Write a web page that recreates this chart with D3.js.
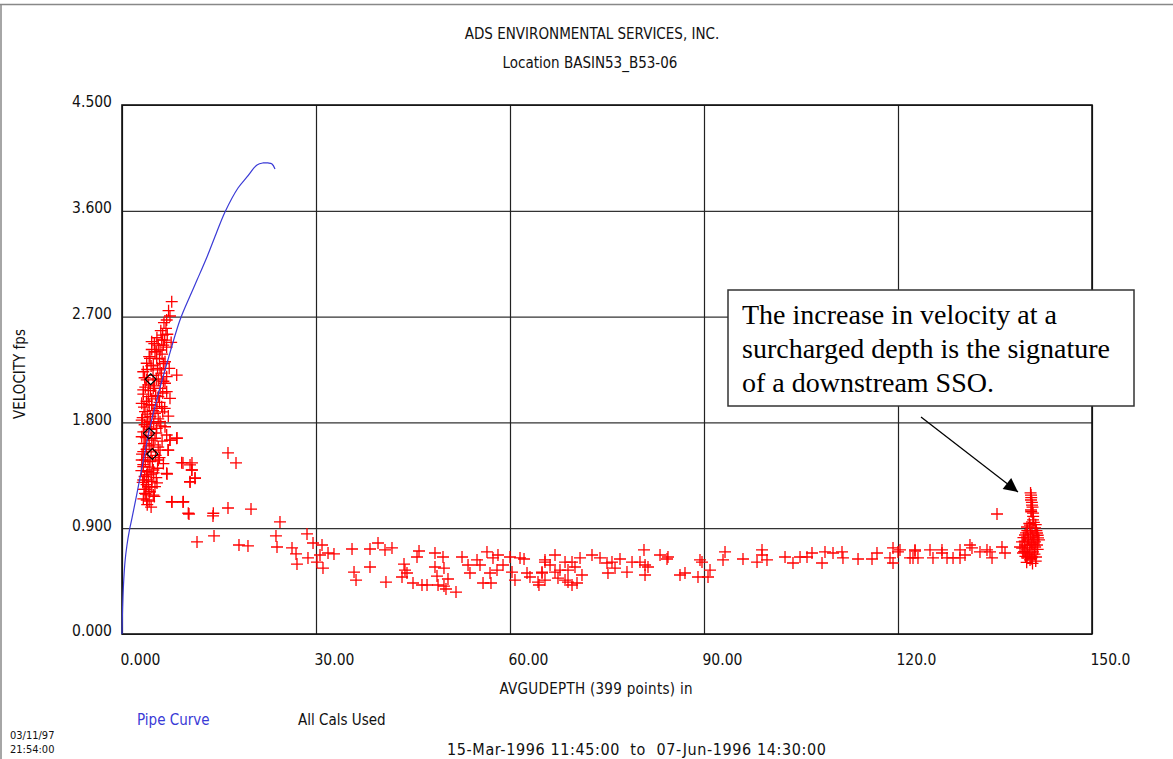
<!DOCTYPE html>
<html>
<head>
<meta charset="utf-8">
<script src="https://cdnjs.cloudflare.com/ajax/libs/d3/7.8.5/d3.min.js"></script>
<style>
  body { margin: 0; background: #fff; }
  svg { display: block; }
  .cad { font-family: "DejaVu Sans Condensed", "Liberation Sans Narrow", sans-serif; font-size: 15px; fill: #111; }
</style>
</head>
<body>
<span></span>
<script>
let width = 1173;
let height = 759;
let margin = { left: 122, top: 105, right: 81, bottom: 125 };
let plotW = width - margin.left - margin.right;
let plotH = height - margin.top - margin.bottom;

// axis ticks
let xTicks = [0, 30, 60, 90, 120, 150];
let xTickLabels = ["0.000", "30.00", "60.00", "90.00", "120.0", "150.0"];
let yTicks = [0, 0.9, 1.8, 2.7, 3.6, 4.5];
let yTickLabels = ["0.000", "0.900", "1.800", "2.700", "3.600", "4.500"];

// pipe curve (depth in, velocity fps)
let pipeDepth = [0, 0.08, 0.23, 0.46, 0.77, 1.16, 1.55, 2.32, 3.25, 4.33, 5.57, 6.96, 8.97, 10.52, 11.60, 13.14, 14.54, 15.93, 17.94, 19.33, 20.88, 21.80, 22.58, 23.20, 23.66];
let pipeVelocity = [0, 0.204, 0.417, 0.612, 0.757, 0.885, 0.987, 1.199, 1.463, 1.761, 2.033, 2.305, 2.671, 2.875, 3.011, 3.207, 3.403, 3.590, 3.794, 3.888, 3.990, 4.007, 4.007, 3.999, 3.956];

// calibration points
let calPoints = [[4.43, 2.167], [4.18, 1.707], [4.69, 1.531]];

// scatter: low depth cluster
let clusterPoints = [
  [7.69,2.827],[7.42,2.705],[6.49,2.648],[6.91,2.671],[6.29,2.543],[6.14,2.501],[4.59,2.487],[5.61,2.458],[6.39,2.458],[5.10,2.401],
  [5.88,2.416],[4.33,2.345],[5.37,2.345],[6.65,2.316],[3.82,2.303],[4.84,2.288],[3.29,2.231],[5.88,2.246],[8.46,2.203],[6.91,2.189],
  [3.82,2.161],[5.61,2.161],[6.65,2.133],[3.29,2.076],[4.84,2.090],[6.91,2.061],[4.07,2.019],[5.61,2.019],[7.42,2.005],[3.05,1.962],
  [4.59,1.948],[6.14,1.934],[3.56,1.891],[5.10,1.877],[7.16,1.854],[3.05,1.820],[4.33,1.806],[5.88,1.806],[3.82,1.763],[5.37,1.750],
  [6.65,1.763],[3.05,1.678],[5.10,1.665],[6.91,1.693],[8.46,1.665],[3.56,1.622],[4.84,1.608],[7.42,1.650],[3.29,1.551],[5.88,1.565],
  [7.16,1.565],[3.05,1.480],[4.33,1.466],[5.61,1.480],[9.23,1.457],[10.52,1.438],[3.29,1.423],[4.84,1.395],[10.78,1.395],[3.82,1.353],
  [6.91,1.367],[11.29,1.324],[3.29,1.310],[4.59,1.296],[10.52,1.296],[4.07,1.253],[5.10,1.253],[3.56,1.197],[4.84,1.182],[3.82,1.140],
  [7.69,1.125],[9.48,1.125],[10.25,1.027],[14.12,1.027],
  [7.2,2.75],[6.8,2.60],[6.0,2.58],[7.0,2.55],[5.4,2.52],[6.6,2.50],[5.0,2.47],[6.9,2.44],[4.6,2.42],[5.3,2.40],
  [6.2,2.38],[4.2,2.36],[5.8,2.34],[6.4,2.30],[4.5,2.28],[5.5,2.26],[3.9,2.25],[6.1,2.22],[4.8,2.20],[3.5,2.18],
  [5.3,2.17],[6.4,2.15],[4.1,2.12],[5.0,2.11],[3.6,2.10],[5.9,2.09],[4.4,2.07],[6.3,2.05],[3.3,2.04],[5.2,2.03],
  [4.6,2.00],[3.8,1.98],[5.8,1.97],[4.2,1.95],[3.4,1.93],[5.4,1.92],[4.8,1.90],[6.3,1.89],[3.9,1.87],[4.4,1.85],
  [3.2,1.84],[5.6,1.83],[4.0,1.80],[4.9,1.79],[3.5,1.78],[6.0,1.77],[4.5,1.74],[3.3,1.72],[5.3,1.71],[4.1,1.69],
  [3.7,1.67],[4.6,1.65],[6.2,1.64],[3.4,1.62],[4.2,1.60],[5.6,1.59],[3.8,1.57],[4.5,1.55],[3.1,1.53],[5.2,1.52],
  [4.0,1.50],[3.6,1.48],[4.7,1.47],[6.4,1.45],[3.3,1.44],[4.2,1.42],[5.5,1.41],[3.0,1.39],[3.9,1.38],[4.5,1.36],
  [3.5,1.34],[5.3,1.33],[4.1,1.31],[3.2,1.29],[3.8,1.27],[4.6,1.25],[3.4,1.23],[4.3,1.21],[3.7,1.19],[5.0,1.17],
  [3.3,1.15],[4.2,1.13],[3.9,1.10],[4.5,1.08],[3.6,1.23],[4.9,1.37],[5.8,1.50],[6.6,1.92],[7.3,2.26],[7.6,2.48]
];

// scatter: falling tail and flat run
let tailPoints = [
  [8.51,1.667],[7.42,1.650],[7.11,1.565],[16.39,1.540],[17.63,1.455],[9.43,1.455],[10.82,1.455],[10.82,1.395],[11.29,1.327],[10.52,1.293],
  [6.96,1.361],[5.41,1.285],[7.73,1.123],[9.43,1.123],[10.36,1.021],[14.07,1.004],[16.39,1.072],[19.95,1.063],[24.43,0.953],[11.60,0.783],
  [14.23,0.834],[18.09,0.757],[19.48,0.749],[23.81,0.834],[23.97,0.740],[26.29,0.732],[26.91,0.681],[27.06,0.595],[28.61,0.851],[29.54,0.774],
  [30.93,0.757],[28.76,0.647],[30.15,0.612],[31.08,0.561],[30.62,0.672],[31.86,0.689],[32.78,0.681],[35.57,0.723],[35.88,0.527],[36.19,0.459],
  [38.35,0.723],[38.35,0.570],[39.59,0.774],[40.67,0.715],[41.75,0.732],[40.82,0.442],[43.61,0.595],[43.76,0.544],[43.30,0.485],[44.07,0.519],
  [45.62,0.655],[45.93,0.706],[45.00,0.434],[46.39,0.417],[47.17,0.417],[48.40,0.689],[49.64,0.655],[48.40,0.570],[49.79,0.561],[48.71,0.493],
  [50.41,0.468],[48.87,0.417],[49.79,0.408],[50.10,0.383],[51.65,0.357],[52.58,0.655],[53.51,0.587],[53.81,0.519],[54.90,0.630],[55.36,0.587],
  [56.44,0.698],[57.37,0.647],[58.14,0.672],[56.91,0.519],[57.99,0.544],[55.83,0.434],[57.06,0.434],[58.92,0.587],[60.00,0.655],[60.31,0.527],
  [60.77,0.459],[61.55,0.647],[62.17,0.638],[62.63,0.519],[63.09,0.485],[64.33,0.442],[64.48,0.417],[64.95,0.527],[65.41,0.630],
  [65.41,0.612],[66.96,0.672],[66.19,0.587],[64.95,0.519],[65.41,0.459],[66.96,0.527],[67.73,0.544],[68.51,0.612],[68.97,0.544],[69.59,0.612],
  [70.05,0.570],[70.83,0.647],[71.13,0.502],[68.51,0.459],[68.97,0.442],[69.59,0.417],[70.36,0.434],[67.42,0.476],[72.68,0.672],[73.92,0.647],
  [75.00,0.604],[75.15,0.519],[75.77,0.612],[76.24,0.561],[77.01,0.638],[78.09,0.527],[78.87,0.612],[80.10,0.612],[80.72,0.715],[80.88,0.587],
  [81.34,0.570],[80.88,0.502],[83.20,0.672],[84.28,0.638],[84.43,0.655],[86.29,0.502],[87.06,0.519],[89.38,0.630],[89.69,0.612],[89.07,0.485],
  [90.62,0.485],[90.93,0.544],[92.94,0.630],[93.25,0.698],[96.03,0.638],[98.20,0.612],[98.97,0.715],[98.97,0.672],[99.74,0.630],[102.53,0.655],
  [103.76,0.604],[104.85,0.655],[105.93,0.655],[106.70,0.689],[108.25,0.604],[108.71,0.698],[109.95,0.689],[111.34,0.698],[111.49,0.647],[113.82,0.638],
  [115.98,0.638],[116.75,0.689],[118.76,0.647],[119.23,0.732],[119.23,0.604],[120.00,0.698],[121.86,0.647],[122.63,0.706],
  [120.31,0.715],[122.63,0.715],[122.32,0.647],[123.09,0.647],[124.95,0.715],[125.41,0.647],[126.80,0.715],[126.80,0.689],[127.58,0.647],[128.51,0.647],
  [129.59,0.715],[129.59,0.647],[130.36,0.672],[131.13,0.757],[131.44,0.732],[132.68,0.698],[133.76,0.715],[134.54,0.647],[134.23,0.698],[136.08,0.740],
  [136.55,0.689],[135.31,1.021]
];

// scatter: surcharged cluster at the right
let surchargePoints = [
  [140.57,1.182],[140.57,1.140],[140.72,1.097],[140.57,1.055],[140.88,1.029],[140.88,0.970],[140.41,0.927],[139.95,0.910],[141.19,0.902],[140.72,0.868],
  [141.49,0.859],[139.64,0.842],[140.88,0.825],[141.65,0.817],[140.10,0.800],[139.18,0.783],[141.19,0.783],[140.72,0.774],[139.64,0.757],[141.49,0.757],
  [138.87,0.740],[140.41,0.732],[139.95,0.715],[140.88,0.698],[139.33,0.689],[140.10,0.672],[140.72,0.655],[141.34,0.655],[139.95,0.647],[140.41,0.630],
  [140.5,1.20],[140.6,1.16],[140.7,1.12],[140.8,1.08],[140.6,1.04],[140.9,1.00],[141.0,0.95],[140.3,0.94],[141.3,0.93],[140.0,0.88],
  [141.4,0.88],[139.8,0.86],[140.5,0.85],[141.6,0.84],[139.4,0.82],[140.2,0.81],[141.0,0.80],[141.8,0.80],[139.6,0.79],[140.6,0.76],
  [141.2,0.74],[139.2,0.73],[140.0,0.75],[141.6,0.72],[139.5,0.70],[140.3,0.69],[141.1,0.68],[139.7,0.66],[140.6,0.64],[141.3,0.62],
  [139.9,0.61],[140.8,0.60]
];

let annotationLines = ["The increase in velocity at a", "surcharged depth is the signature", "of a downstream SSO."];

let svg = d3.select("span")
    .append("svg")
    .attr("width", width)
    .attr("height", height);

// page border (top and left)
svg.append("line").attr("x1", 0).attr("y1", 4.5).attr("x2", width).attr("y2", 4.5)
    .style("stroke", "#888").style("stroke-width", 1.5);
svg.append("line").attr("x1", 1).attr("y1", 4).attr("x2", 1).attr("y2", height)
    .style("stroke", "#888").style("stroke-width", 1.5);

// titles
svg.append("text").attr("class", "cad").attr("x", 592).attr("y", 39)
    .attr("text-anchor", "middle").text("ADS ENVIRONMENTAL SERVICES, INC.");
svg.append("text").attr("class", "cad").attr("x", 590).attr("y", 68)
    .attr("text-anchor", "middle").text("Location BASIN53_B53-06");

let x = d3.scaleLinear().domain([0, 150]).range([0, plotW]);
let y = d3.scaleLinear().domain([0, 4.5]).range([plotH, 0]);

let g = svg.append("g").attr("transform", `translate(${margin.left},${margin.top})`);

// y grid + labels
let yAxis = g.append("g")
    .call(d3.axisLeft(y).tickValues(yTicks)
        .tickFormat((d, i) => yTickLabels[i])
        .tickSize(-plotW).tickSizeOuter(0).tickPadding(10));
yAxis.select(".domain").remove();
yAxis.selectAll("line").style("stroke", "#333").style("stroke-width", 1.2);
yAxis.selectAll("text").attr("class", "cad").attr("y", -3).style("font-size", "15.5px");

// x grid + labels
let xAxis = g.append("g")
    .attr("transform", `translate(0,${plotH})`)
    .call(d3.axisBottom(x).tickValues(xTicks)
        .tickFormat((d, i) => xTickLabels[i])
        .tickSize(-plotH).tickSizeOuter(0).tickPadding(20));
xAxis.select(".domain").remove();
xAxis.selectAll("line").style("stroke", "#222").style("stroke-width", 1.2);
xAxis.selectAll("text").attr("class", "cad").attr("text-anchor", "start")
    .attr("dx", -2).style("font-size", "15.5px");

// frame
g.append("rect").attr("x", 0).attr("y", 0).attr("width", plotW).attr("height", plotH)
    .style("fill", "none").style("stroke", "#111").style("stroke-width", 1.6);

// axis titles
svg.append("text").attr("class", "cad")
    .attr("transform", "translate(25,374) rotate(-90)")
    .attr("text-anchor", "middle").text("VELOCITY fps");
svg.append("text").attr("class", "cad").attr("x", 596).attr("y", 694)
    .attr("text-anchor", "middle").attr("textLength", 193).attr("lengthAdjust", "spacing")
    .text("AVGUDEPTH (399 points) in");

// scatter points as plus marks
let allPoints = clusterPoints.concat(tailPoints, surchargePoints);
g.append("g").selectAll("path")
    .data(allPoints)
    .enter().append("path")
    .attr("transform", d => `translate(${x(d[0])},${y(d[1])})`)
    .attr("d", "M-6,0H6M0,-6V6")
    .style("stroke", "#ff0000")
    .style("stroke-width", 1.3)
    .style("fill", "none");

// pipe curve
let pipeData = pipeDepth.map((d, i) => ({ x: d, y: pipeVelocity[i] }));
let line = d3.line().x(d => x(d.x)).y(d => y(d.y)).curve(d3.curveCatmullRom);
g.append("path")
    .attr("d", line(pipeData))
    .style("fill", "none")
    .style("stroke", "#3a3ad6")
    .style("stroke-width", 1.2);

// calibration diamonds
g.append("g").selectAll("path")
    .data(calPoints)
    .enter().append("path")
    .attr("transform", d => `translate(${x(d[0])},${y(d[1])})`)
    .attr("d", "M0,-5.5L5.5,0L0,5.5L-5.5,0Z")
    .style("fill", "none")
    .style("stroke", "#000")
    .style("stroke-width", 1.2);

// annotation box
svg.append("rect").attr("x", 728).attr("y", 290).attr("width", 406).attr("height", 116)
    .style("fill", "#fff").style("stroke", "#333").style("stroke-width", 1.5);
annotationLines.forEach(function (t, i) {
    svg.append("text")
        .attr("x", 742).attr("y", 324 + i * 34)
        .style("font-family", "'Liberation Serif', 'Times New Roman', serif")
        .style("font-size", "28px")
        .style("fill", "#000")
        .text(t);
});

// arrow to surcharge cluster
svg.append("defs").append("marker")
    .attr("id", "arrowHead")
    .attr("viewBox", "0 0 10 10")
    .attr("refX", 10).attr("refY", 5)
    .attr("markerWidth", 20).attr("markerHeight", 14)
    .attr("markerUnits", "userSpaceOnUse")
    .attr("orient", "auto")
    .append("path").attr("d", "M0,0L10,5L0,10Z").style("fill", "#000");
svg.append("line")
    .attr("x1", 921).attr("y1", 417).attr("x2", 1018).attr("y2", 492)
    .style("stroke", "#000").style("stroke-width", 1.3)
    .attr("marker-end", "url(#arrowHead)");

// footer
svg.append("text").attr("class", "cad").attr("x", 137).attr("y", 725)
    .style("fill", "#3a3ad6").text("Pipe Curve");
svg.append("text").attr("class", "cad").attr("x", 298).attr("y", 725)
    .text("All Cals Used");
svg.append("text").attr("class", "cad").attr("x", 10).attr("y", 739)
    .style("font-size", "11px").text("03/11/97");
svg.append("text").attr("class", "cad").attr("x", 10).attr("y", 753)
    .style("font-size", "11px").text("21:54:00");
svg.append("text").attr("class", "cad").attr("x", 447).attr("y", 755)
    .style("font-size", "16px").style("white-space", "pre")
    .attr("textLength", 379).attr("lengthAdjust", "spacing")
    .text("15-Mar-1996 11:45:00  to  07-Jun-1996 14:30:00");
</script>
</body>
</html>
